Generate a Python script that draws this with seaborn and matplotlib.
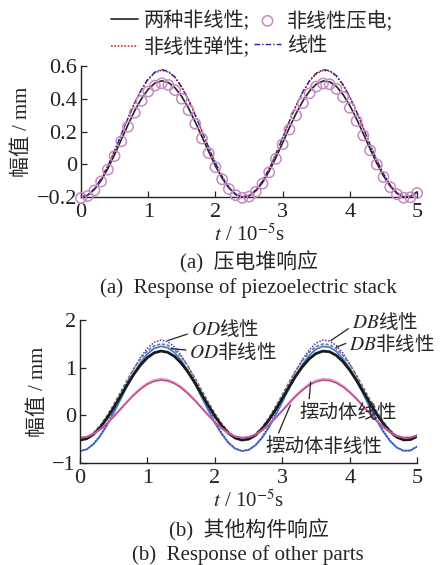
import numpy as np
import pandas as pd
import matplotlib
matplotlib.use('Agg')
import matplotlib.pyplot as plt
import seaborn as sns
from matplotlib.ticker import FuncFormatter

# Données (t en 1e-5 s, amplitude en mm)
t = [round(0.1 * i, 1) for i in range(51)]

# (a) Réponse de la pile piézoélectrique
a_deux_nl = [-0.200, -0.188, -0.153, -0.098, -0.025, 0.059, 0.151, 0.242, 0.328, 0.401,
             0.459, 0.496, 0.510, 0.500, 0.467, 0.414, 0.343, 0.259, 0.168, 0.078,
             -0.009, -0.084, -0.144, -0.183, -0.199, -0.192, -0.162, -0.111, -0.041, 0.042,
             0.132, 0.224, 0.311, 0.387, 0.448, 0.490, 0.509, 0.504, 0.476, 0.426,
             0.358, 0.277, 0.187, 0.095, 0.007, -0.070, -0.133, -0.177, -0.198, -0.196, -0.169]
a_nl_piezo = [-0.205, -0.193, -0.159, -0.104, -0.032, 0.051, 0.141, 0.230, 0.315, 0.388,
              0.445, 0.481, 0.495, 0.485, 0.453, 0.401, 0.331, 0.248, 0.158, 0.069,
              -0.017, -0.091, -0.150, -0.188, -0.204, -0.197, -0.167, -0.117, -0.048, 0.034,
              0.123, 0.213, 0.299, 0.374, 0.434, 0.475, 0.494, 0.489, 0.461, 0.412,
              0.345, 0.265, 0.177, 0.086, -0.001, -0.077, -0.139, -0.182, -0.203, -0.201, -0.175]
a_nl_elast = [-0.200, -0.187, -0.149, -0.088, -0.009, 0.083, 0.183, 0.282, 0.376, 0.456,
              0.519, 0.560, 0.575, 0.564, 0.529, 0.470, 0.393, 0.301, 0.202, 0.103,
              0.008, -0.074, -0.139, -0.181, -0.199, -0.191, -0.158, -0.102, -0.026, 0.064,
              0.163, 0.263, 0.358, 0.441, 0.508, 0.553, 0.574, 0.569, 0.538, 0.484,
              0.409, 0.321, 0.222, 0.122, 0.026, -0.058, -0.127, -0.174, -0.198, -0.195, -0.167]
a_lin = [-0.200, -0.187, -0.149, -0.088, -0.009, 0.083, 0.183, 0.283, 0.377, 0.458,
         0.522, 0.563, 0.579, 0.568, 0.532, 0.472, 0.394, 0.301, 0.202, 0.103,
         0.008, -0.074, -0.139, -0.181, -0.199, -0.191, -0.158, -0.102, -0.026, 0.064,
         0.163, 0.264, 0.360, 0.444, 0.512, 0.557, 0.578, 0.573, 0.541, 0.486,
         0.410, 0.321, 0.222, 0.122, 0.026, -0.058, -0.127, -0.174, -0.198, -0.195, -0.167]

# (b) Réponse des autres pièces
od_lin = [-0.750, -0.710, -0.596, -0.414, -0.174, 0.100, 0.401, 0.699, 0.981, 1.224,
          1.412, 1.533, 1.580, 1.547, 1.440, 1.265, 1.032, 0.758, 0.459, 0.161,
          -0.123, -0.370, -0.566, -0.694, -0.748, -0.724, -0.624, -0.456, -0.228, 0.045,
          0.340, 0.641, 0.928, 1.177, 1.377, 1.515, 1.578, 1.561, 1.468, 1.305,
          1.081, 0.816, 0.520, 0.219, -0.070, -0.324, -0.531, -0.673, -0.743, -0.736, -0.650]
od_nl = [-0.750, -0.713, -0.605, -0.433, -0.207, 0.053, 0.337, 0.618, 0.885, 1.113,
         1.292, 1.406, 1.450, 1.419, 1.318, 1.153, 0.933, 0.673, 0.392, 0.110,
         -0.158, -0.391, -0.576, -0.697, -0.748, -0.726, -0.631, -0.473, -0.257, 0.000,
         0.280, 0.563, 0.834, 1.069, 1.259, 1.388, 1.448, 1.432, 1.344, 1.190,
         0.979, 0.728, 0.449, 0.165, -0.108, -0.347, -0.543, -0.677, -0.743, -0.737, -0.655]
db_lin = [-0.500, -0.466, -0.368, -0.212, -0.006, 0.230, 0.488, 0.744, 0.986, 1.194,
          1.356, 1.460, 1.500, 1.472, 1.380, 1.230, 1.030, 0.794, 0.538, 0.282,
          0.038, -0.174, -0.342, -0.452, -0.498, -0.478, -0.392, -0.248, -0.052, 0.182,
          0.436, 0.694, 0.940, 1.154, 1.326, 1.444, 1.498, 1.484, 1.404, 1.264,
          1.072, 0.844, 0.590, 0.332, 0.084, -0.134, -0.312, -0.434, -0.494, -0.488, -0.414]
db_nl = [-0.520, -0.488, -0.397, -0.251, -0.058, 0.163, 0.404, 0.643, 0.869, 1.064,
         1.215, 1.313, 1.350, 1.324, 1.238, 1.098, 0.911, 0.690, 0.451, 0.211,
         -0.017, -0.215, -0.372, -0.475, -0.518, -0.499, -0.419, -0.284, -0.101, 0.118,
         0.355, 0.596, 0.826, 1.026, 1.187, 1.298, 1.348, 1.335, 1.260, 1.129,
         0.950, 0.737, 0.499, 0.258, 0.026, -0.178, -0.344, -0.458, -0.514, -0.509, -0.440]
bd_lin = [-0.470, -0.449, -0.388, -0.291, -0.164, -0.017, 0.143, 0.301, 0.451, 0.580,
          0.681, 0.745, 0.770, 0.753, 0.696, 0.603, 0.479, 0.332, 0.174, 0.015,
          -0.136, -0.268, -0.372, -0.440, -0.469, -0.456, -0.403, -0.314, -0.192, -0.047,
          0.110, 0.270, 0.423, 0.555, 0.662, 0.735, 0.769, 0.760, 0.710, 0.624,
          0.505, 0.363, 0.206, 0.046, -0.108, -0.243, -0.353, -0.429, -0.466, -0.463, -0.417]
bd_nl = [-0.470, -0.449, -0.390, -0.296, -0.171, -0.028, 0.128, 0.283, 0.429, 0.555,
         0.653, 0.716, 0.740, 0.723, 0.667, 0.577, 0.456, 0.313, 0.158, 0.003,
         -0.145, -0.273, -0.374, -0.441, -0.469, -0.457, -0.405, -0.318, -0.199, -0.057,
         0.096, 0.252, 0.401, 0.531, 0.635, 0.706, 0.739, 0.730, 0.682, 0.597,
         0.481, 0.343, 0.189, 0.033, -0.117, -0.249, -0.356, -0.430, -0.466, -0.463, -0.418]

df_a = pd.DataFrame({'t': t, 'deux': a_deux_nl, 'piezo': a_nl_piezo,
                     'elast': a_nl_elast, 'lin': a_lin})
df_b = pd.DataFrame({'t': t, 'od_lin': od_lin, 'od_nl': od_nl, 'db_lin': db_lin,
                     'db_nl': db_nl, 'bd_lin': bd_lin, 'bd_nl': bd_nl})

# Style
sns.set_theme(style='ticks')
plt.rcParams['font.family'] = ['Liberation Serif', 'Noto Sans CJK SC']
plt.rcParams['mathtext.fontset'] = 'stix'
plt.rcParams['axes.unicode_minus'] = True
fs = 15
fs_tick = 16
cjk = ['Noto Sans CJK SC']

fig = plt.figure(figsize=(4.4, 5.65), dpi=100)
ax1 = fig.add_axes([0.184, 0.651, 0.764, 0.232])
ax2 = fig.add_axes([0.182, 0.1805, 0.766, 0.253])

# --- (a)
sns.lineplot(data=df_a, x='t', y='deux', ax=ax1, color='#222222', lw=1.2, label='两种非线性;')
sns.lineplot(data=df_a, x='t', y='elast', ax=ax1, color='#e02828', lw=1.2,
             linestyle=(0, (1, 1)), label='非线性弹性;')
sns.lineplot(data=df_a, x='t', y='lin', ax=ax1, color='#2222a0', lw=1.0,
             linestyle=(0, (4, 1.5, 1, 1.5)), label='线性')
sns.scatterplot(data=df_a, x='t', y='piezo', ax=ax1, marker='o', s=55,
                facecolor='none', edgecolor='#c68ac2', linewidth=1.1,
                label='非线性压电;', clip_on=False, zorder=3)

h, l = ax1.get_legend_handles_labels()
order = [l.index('两种非线性;'), l.index('非线性弹性;'), l.index('非线性压电;'), l.index('线性')]
ax1.get_legend().remove()
fig.legend([h[i] for i in order], [l[i] for i in order], ncol=2, frameon=False,
           loc='upper left', bbox_to_anchor=(0.21, 1.014), fontsize=14.5,
           handlelength=1.35, handletextpad=0.3, columnspacing=0.2, labelspacing=0.3)

ax1.set_xlim(0, 5)
ax1.set_ylim(-0.2, 0.6)
ax1.set_xticks([0, 1, 2, 3, 4, 5])
ax1.set_yticks([-0.2, 0, 0.2, 0.4, 0.6])
ax1.yaxis.set_major_formatter(FuncFormatter(lambda v, p: f'{v:g}'.replace('-', '\u2212')))
ax1.set_xlabel(r'$t$ / 10$^{-5}$s', fontsize=fs, labelpad=2)
ax1.set_ylabel('幅值 / mm', fontsize=fs, labelpad=3)

# --- (b)
sns.lineplot(data=df_b, x='t', y='od_nl', ax=ax2, color='#3f7fd0', lw=1.3)
sns.lineplot(data=df_b, x='t', y='od_lin', ax=ax2, color='#4a3cc0', lw=1.1, linestyle=(0, (1, 1)))
sns.lineplot(data=df_b, x='t', y='db_lin', ax=ax2, color='#777777', lw=1.2, linestyle=(0, (2, 1)))
sns.lineplot(data=df_b, x='t', y='db_nl', ax=ax2, color='#1a1a1a', lw=2.0)
sns.lineplot(data=df_b, x='t', y='bd_lin', ax=ax2, color='#e2a6cc', lw=1.3)
sns.lineplot(data=df_b, x='t', y='bd_nl', ax=ax2, color='#c04c92', lw=1.2)

ax2.set_xlim(0, 5)
ax2.set_ylim(-1, 2)
ax2.set_xticks([0, 1, 2, 3, 4, 5])
ax2.set_yticks([-1, 0, 1, 2])
ax2.set_xlabel(r'$t$ / 10$^{-5}$s', fontsize=fs, labelpad=2)
ax2.set_ylabel('幅值 / mm', fontsize=fs, labelpad=3)

# annotations
def note(txt, xy, xytext, rel):
    ax2.annotate(txt, xy=xy, xytext=xytext, fontsize=14, family=cjk, va='center',
                 arrowprops=dict(arrowstyle='-', color='#222222', lw=0.9,
                                 shrinkA=0, shrinkB=0, relpos=rel))

note('$OD$线性', (1.3, 1.57), (1.64, 1.82), (0.0, 0.3))
note('$OD$非线性', (1.35, 1.40), (1.62, 1.32), (0.0, 0.6))
note('$DB$线性', (3.72, 1.57), (4.03, 1.96), (0.0, 0.3))
note('$DB$非线性', (3.8, 1.43), (3.99, 1.49), (0.0, 0.6))
note('摆动体线性', (3.42, 0.70), (3.25, 0.06), (0.1, 1.0))
note('摆动体非线性', (3.12, 0.22), (2.75, -0.66), (0.1, 1.0))

for ax in (ax1, ax2):
    sns.despine(ax=ax)
    ax.tick_params(direction='in', length=4, width=0.9, labelsize=fs_tick, pad=3,
                   colors='#222222')
    ax.tick_params(axis='x', pad=4)
    for s in ('left', 'bottom'):
        ax.spines[s].set_linewidth(1.0)
        ax.spines[s].set_color('#222222')

# légendes sous les graphiques
fig.text(0.566, 1 - 262 / 565, '(a)  压电堆响应', ha='center', va='center', fontsize=fs)
fig.text(0.564, 1 - 288 / 565, '(a)  Response of piezoelectric stack', ha='center', va='center', fontsize=fs)
fig.text(0.566, 1 - 530 / 565, '(b)  其他构件响应', ha='center', va='center', fontsize=fs)
fig.text(0.564, 1 - 555 / 565, '(b)  Response of other parts', ha='center', va='center', fontsize=fs)

plt.savefig('out.png', dpi=100)
